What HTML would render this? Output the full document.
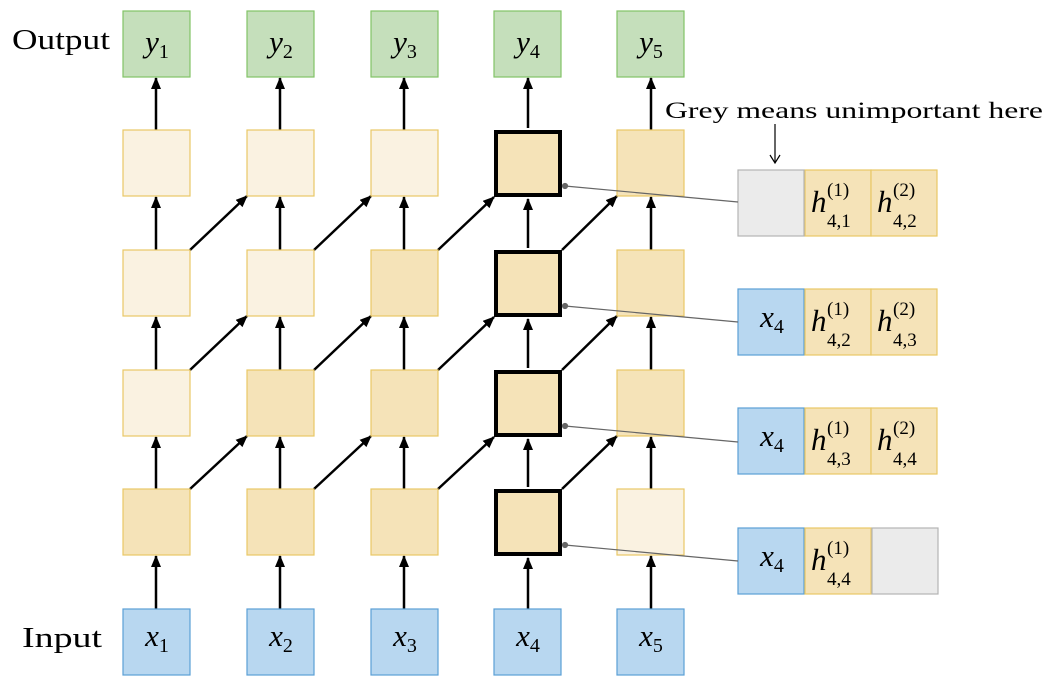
<!DOCTYPE html>
<html><head><meta charset="utf-8"><style>
body{margin:0;background:#fff}
svg text{font-family:"Liberation Serif","DejaVu Serif",serif}
.m{font-style:italic;font-size:31px;font-family:"Liberation Serif","DejaVu Serif",serif}
.s{font-size:20px}
.hs{font-size:19px}
</style></head><body>
<svg width="1050" height="686" xmlns="http://www.w3.org/2000/svg">
<defs>
<marker id="b" markerWidth="12" markerHeight="10" refX="11" refY="5" orient="auto" markerUnits="userSpaceOnUse"><path d="M0,0 L12,5 L0,10 Z" fill="#000"/></marker>
</defs>
<g stroke="#000" stroke-width="2.5" fill="none">
<g marker-end="url(#b)">
<line x1="156" y1="609" x2="156" y2="556"/><line x1="280" y1="609" x2="280" y2="556"/><line x1="404" y1="609" x2="404" y2="556"/><line x1="528" y1="609" x2="528" y2="558"/><line x1="651" y1="609" x2="651" y2="556"/>
<line x1="156" y1="489" x2="156" y2="437"/><line x1="280" y1="489" x2="280" y2="437"/><line x1="404" y1="489" x2="404" y2="437"/><line x1="528" y1="487" x2="528" y2="439"/><line x1="651" y1="489" x2="651" y2="437"/>
<line x1="156" y1="370" x2="156" y2="317"/><line x1="280" y1="370" x2="280" y2="317"/><line x1="404" y1="370" x2="404" y2="317"/><line x1="528" y1="368" x2="528" y2="319"/><line x1="651" y1="370" x2="651" y2="317"/>
<line x1="156" y1="250" x2="156" y2="197"/><line x1="280" y1="250" x2="280" y2="197"/><line x1="404" y1="250" x2="404" y2="197"/><line x1="528" y1="248" x2="528" y2="199"/><line x1="651" y1="250" x2="651" y2="197"/>
<line x1="156" y1="130" x2="156" y2="78"/><line x1="280" y1="130" x2="280" y2="78"/><line x1="404" y1="130" x2="404" y2="78"/><line x1="528" y1="128" x2="528" y2="78"/><line x1="651" y1="130" x2="651" y2="78"/>
<line x1="190" y1="489" x2="247" y2="436"/><line x1="314" y1="489" x2="371" y2="436"/><line x1="438" y1="489" x2="494" y2="437"/><line x1="562" y1="489" x2="617" y2="436"/>
<line x1="190" y1="370" x2="247" y2="316"/><line x1="314" y1="370" x2="371" y2="316"/><line x1="438" y1="370" x2="494" y2="317"/><line x1="562" y1="370" x2="617" y2="316"/>
<line x1="190" y1="250" x2="247" y2="196"/><line x1="314" y1="250" x2="371" y2="196"/><line x1="438" y1="250" x2="494" y2="197"/><line x1="562" y1="250" x2="617" y2="196"/>
</g>
</g>
<g fill="#c5dfbb" stroke="#82c366" stroke-width="1.2">
<rect x="123" y="11" width="67" height="66"/><rect x="247" y="11" width="67" height="66"/><rect x="371" y="11" width="67" height="66"/><rect x="494" y="11" width="67" height="66"/><rect x="617" y="11" width="67" height="66"/>
</g>
<g fill="#b8d7f0" stroke="#5a9fd6" stroke-width="1.2">
<rect x="123" y="609" width="67" height="66"/><rect x="247" y="609" width="67" height="66"/><rect x="371" y="609" width="67" height="66"/><rect x="494" y="609" width="67" height="66"/><rect x="617" y="609" width="67" height="66"/>
<rect x="738" y="289" width="66" height="66"/><rect x="738" y="408" width="66" height="66"/><rect x="738" y="528" width="66" height="66"/>
</g>
<g fill="#faf2e1" stroke="#e8c766" stroke-width="1.2">
<rect x="123" y="130" width="67" height="66"/><rect x="247" y="130" width="67" height="66"/><rect x="371" y="130" width="67" height="66"/>
<rect x="123" y="250" width="67" height="66"/><rect x="247" y="250" width="67" height="66"/>
<rect x="123" y="370" width="67" height="66"/>
<rect x="617" y="489" width="67" height="66"/>
</g>
<g fill="#f5e3b8" stroke="#e8c766" stroke-width="1.2">
<rect x="617" y="130" width="67" height="66"/>
<rect x="371" y="250" width="67" height="66"/><rect x="617" y="250" width="67" height="66"/>
<rect x="247" y="370" width="67" height="66"/><rect x="371" y="370" width="67" height="66"/><rect x="617" y="370" width="67" height="66"/>
<rect x="123" y="489" width="67" height="66"/><rect x="247" y="489" width="67" height="66"/><rect x="371" y="489" width="67" height="66"/>
<rect x="805" y="170" width="66" height="66"/><rect x="871" y="170" width="66" height="66"/>
<rect x="805" y="289" width="66" height="66"/><rect x="871" y="289" width="66" height="66"/>
<rect x="805" y="408" width="66" height="66"/><rect x="871" y="408" width="66" height="66"/>
<rect x="805" y="528" width="66" height="66"/>
</g>
<g fill="#ebebeb" stroke="#b3b3b3" stroke-width="1.2">
<rect x="738" y="170" width="66" height="66"/><rect x="872" y="528" width="66" height="66"/>
</g>
<g fill="#f5e3b8" stroke="#000" stroke-width="4">
<rect x="496" y="132" width="64" height="63"/><rect x="496" y="252" width="64" height="63"/><rect x="496" y="372" width="64" height="63"/><rect x="496" y="491" width="64" height="63"/>
</g>
<g stroke="#666" stroke-width="1.2" fill="#666">
<line x1="565" y1="186" x2="738" y2="202"/><circle cx="565" cy="186" r="2.5"/>
<line x1="565" y1="306" x2="738" y2="322"/><circle cx="565" cy="306" r="2.5"/>
<line x1="565" y1="426" x2="738" y2="442"/><circle cx="565" cy="426" r="2.5"/>
<line x1="565" y1="545" x2="738" y2="561"/><circle cx="565" cy="545" r="2.5"/>
</g>
<line x1="775" y1="124" x2="775" y2="162" stroke="#000" stroke-width="1.2"/>
<path d="M770,155 L775,163 L780,155" stroke="#000" stroke-width="1.2" fill="none"/>
<text x="12" y="49" font-size="28" textLength="98" lengthAdjust="spacingAndGlyphs">Output</text>
<text x="22" y="647" font-size="28" textLength="80" lengthAdjust="spacingAndGlyphs">Input</text>
<text x="665" y="118" font-size="23" textLength="378" lengthAdjust="spacingAndGlyphs">Grey means unimportant here</text>
<g text-anchor="middle">
<text x="157" y="52"><tspan class="m">y</tspan><tspan class="s" dy="6">1</tspan></text>
<text x="281" y="52"><tspan class="m">y</tspan><tspan class="s" dy="6">2</tspan></text>
<text x="405" y="52"><tspan class="m">y</tspan><tspan class="s" dy="6">3</tspan></text>
<text x="528" y="52"><tspan class="m">y</tspan><tspan class="s" dy="6">4</tspan></text>
<text x="651" y="52"><tspan class="m">y</tspan><tspan class="s" dy="6">5</tspan></text>
<text x="157" y="646"><tspan class="m">x</tspan><tspan class="s" dy="6">1</tspan></text>
<text x="281" y="646"><tspan class="m">x</tspan><tspan class="s" dy="6">2</tspan></text>
<text x="405" y="646"><tspan class="m">x</tspan><tspan class="s" dy="6">3</tspan></text>
<text x="528" y="646"><tspan class="m">x</tspan><tspan class="s" dy="6">4</tspan></text>
<text x="651" y="646"><tspan class="m">x</tspan><tspan class="s" dy="6">5</tspan></text>
<text x="772" y="327"><tspan class="m">x</tspan><tspan class="s" dy="6">4</tspan></text>
<text x="772" y="446"><tspan class="m">x</tspan><tspan class="s" dy="6">4</tspan></text>
<text x="772" y="566"><tspan class="m">x</tspan><tspan class="s" dy="6">4</tspan></text>
</g>
<g>
<text x="811" y="212" class="m">h</text><text x="827" y="196" class="hs">(1)</text><text x="827" y="227" class="hs">4,1</text>
<text x="877" y="212" class="m">h</text><text x="893" y="196" class="hs">(2)</text><text x="893" y="227" class="hs">4,2</text>
<text x="811" y="331" class="m">h</text><text x="827" y="315" class="hs">(1)</text><text x="827" y="346" class="hs">4,2</text>
<text x="877" y="331" class="m">h</text><text x="893" y="315" class="hs">(2)</text><text x="893" y="346" class="hs">4,3</text>
<text x="811" y="450" class="m">h</text><text x="827" y="434" class="hs">(1)</text><text x="827" y="465" class="hs">4,3</text>
<text x="877" y="450" class="m">h</text><text x="893" y="434" class="hs">(2)</text><text x="893" y="465" class="hs">4,4</text>
<text x="811" y="570" class="m">h</text><text x="827" y="554" class="hs">(1)</text><text x="827" y="585" class="hs">4,4</text>
</g>
</svg>
</body></html>
